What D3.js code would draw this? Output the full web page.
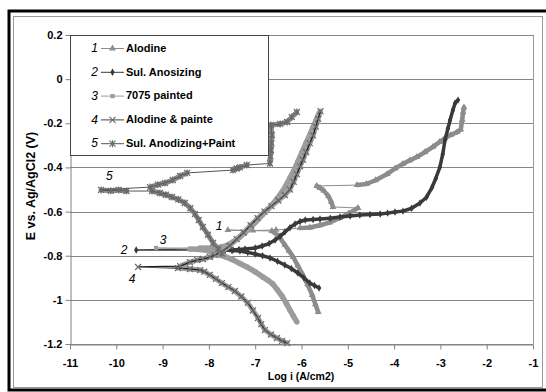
<!DOCTYPE html>
<html>
<head>
<meta charset="utf-8">
<script src="https://cdn.jsdelivr.net/npm/d3@7"></script>
<style>
  body { margin: 0; background: #fff; }
  svg { display: block; font-family: "Liberation Sans", Arial, sans-serif; }
</style>
</head>
<body>
<svg id="chart" width="546" height="392"></svg>
<script>
// tick values
const xTicks = [-11, -10, -9, -8, -7, -6, -5, -4, -3, -2, -1];
const yTicks = [0.2, 0, -0.2, -0.4, -0.6, -0.8, -1, -1.2];

// series names (legend order)
const seriesNames = ['Alodine', 'Sul. Anosizing', '7075 painted', 'Alodine & painte', 'Sul. Anodizing+Paint'];

// each series: [log i, E] in scan order (cathodic end -> Ecorr -> anodic end)
const alodine = [
  [-5.64, -1.055], [-5.70, -1.02], [-5.77, -0.978], [-5.87, -0.93], [-5.97, -0.887],
  [-6.08, -0.845], [-6.18, -0.806], [-6.27, -0.778], [-6.36, -0.751], [-6.49, -0.711],
  [-6.64, -0.688], [-7.59, -0.684],
  [-7.05, -0.686], [-6.55, -0.683], [-6.03, -0.675], [-5.82, -0.672], [-5.60, -0.662],
  [-5.40, -0.650], [-5.17, -0.629], [-4.98, -0.608], [-4.78, -0.584],
  [-5.32, -0.579], [-5.36, -0.555], [-5.42, -0.530], [-5.52, -0.505], [-5.60, -0.493],
  [-5.67, -0.484], [-4.80, -0.480], [-4.60, -0.475], [-4.40, -0.458], [-4.15, -0.430],
  [-3.98, -0.405], [-3.81, -0.384], [-3.66, -0.368], [-3.51, -0.353], [-3.33, -0.330],
  [-3.16, -0.307], [-3.02, -0.285], [-2.90, -0.267], [-2.78, -0.253], [-2.64, -0.240],
  [-2.56, -0.228], [-2.53, -0.185], [-2.51, -0.150], [-2.49, -0.128]
];
const sulAnodizing = [
  [-5.62, -0.946], [-5.72, -0.935], [-5.82, -0.924], [-5.95, -0.90], [-6.08, -0.878],
  [-6.22, -0.858], [-6.36, -0.842], [-6.52, -0.825], [-6.68, -0.810], [-6.84, -0.800],
  [-7.00, -0.792], [-7.16, -0.785], [-7.33, -0.779], [-7.50, -0.776], [-7.65, -0.774],
  [-7.85, -0.774], [-7.98, -0.774], [-9.57, -0.774],
  [-7.87, -0.770], [-7.65, -0.772], [-7.48, -0.774], [-7.35, -0.772], [-7.22, -0.770],
  [-7.00, -0.765], [-6.85, -0.756], [-6.70, -0.745], [-6.57, -0.729], [-6.46, -0.712],
  [-6.36, -0.693], [-6.25, -0.673], [-6.14, -0.656], [-6.03, -0.645], [-5.92, -0.638],
  [-5.75, -0.636], [-5.60, -0.634], [-5.38, -0.630], [-5.17, -0.625], [-4.95, -0.620],
  [-4.74, -0.616], [-4.52, -0.613], [-4.30, -0.611], [-4.14, -0.607], [-3.98, -0.602],
  [-3.81, -0.598], [-3.62, -0.585], [-3.44, -0.561], [-3.30, -0.535], [-3.18, -0.49],
  [-3.10, -0.45], [-3.01, -0.398], [-2.95, -0.34], [-2.90, -0.276], [-2.84, -0.225],
  [-2.79, -0.185], [-2.73, -0.14], [-2.68, -0.108], [-2.62, -0.095]
];
const painted7075 = [
  [-6.10, -1.100], [-6.18, -1.072], [-6.25, -1.046], [-6.33, -1.015], [-6.42, -0.983],
  [-6.52, -0.955], [-6.62, -0.928], [-6.72, -0.912], [-6.83, -0.897], [-7.00, -0.873],
  [-7.18, -0.851], [-7.33, -0.835], [-7.48, -0.819], [-7.62, -0.807], [-7.76, -0.797],
  [-7.92, -0.785], [-8.08, -0.774], [-8.25, -0.771], [-8.41, -0.770], [-9.14, -0.765],
  [-8.19, -0.765], [-8.02, -0.766], [-7.87, -0.765], [-7.72, -0.760], [-7.59, -0.752],
  [-7.46, -0.735], [-7.33, -0.715], [-7.22, -0.695], [-7.11, -0.674], [-6.98, -0.645],
  [-6.85, -0.616], [-6.73, -0.590], [-6.62, -0.566], [-6.52, -0.540], [-6.42, -0.511],
  [-6.33, -0.480], [-6.25, -0.448], [-6.16, -0.412], [-6.08, -0.375], [-5.99, -0.332],
  [-5.90, -0.289], [-5.82, -0.252], [-5.75, -0.217], [-5.68, -0.185], [-5.62, -0.153]
];
const alodinePaint = [
  [-6.31, -1.196], [-6.42, -1.186], [-6.53, -1.173], [-6.66, -1.157], [-6.79, -1.137],
  [-6.87, -1.110], [-6.94, -1.082], [-7.05, -1.048], [-7.16, -1.014], [-7.30, -0.985],
  [-7.44, -0.960], [-7.58, -0.942], [-7.72, -0.924], [-7.85, -0.905], [-7.98, -0.887],
  [-8.10, -0.872], [-8.19, -0.865], [-8.41, -0.860], [-8.67, -0.856], [-9.53, -0.851],
  [-8.62, -0.847], [-8.41, -0.829], [-8.25, -0.820], [-8.13, -0.815], [-7.98, -0.806],
  [-7.87, -0.797], [-7.70, -0.779], [-7.55, -0.755], [-7.40, -0.725], [-7.25, -0.695],
  [-7.10, -0.662], [-6.95, -0.630], [-6.80, -0.600], [-6.65, -0.575], [-6.50, -0.550],
  [-6.36, -0.525], [-6.25, -0.500], [-6.17, -0.465], [-6.10, -0.430], [-6.03, -0.395],
  [-5.97, -0.365], [-5.90, -0.330], [-5.82, -0.290], [-5.75, -0.255], [-5.69, -0.215],
  [-5.64, -0.180], [-5.59, -0.145]
];
const sulAnodizingPaint = [
  [-7.72, -0.790], [-7.80, -0.770], [-7.91, -0.742], [-8.02, -0.705], [-8.13, -0.670],
  [-8.22, -0.638], [-8.30, -0.611], [-8.40, -0.585], [-8.52, -0.561], [-8.66, -0.545],
  [-8.80, -0.534], [-8.93, -0.524], [-9.06, -0.516], [-9.23, -0.507], [-9.78, -0.507],
  [-9.95, -0.502], [-10.12, -0.506], [-10.33, -0.502],
  [-9.27, -0.489], [-9.10, -0.478], [-8.95, -0.471], [-8.78, -0.457], [-8.62, -0.439],
  [-8.47, -0.425], [-7.48, -0.412], [-7.40, -0.405], [-7.33, -0.400], [-7.18, -0.389],
  [-6.68, -0.382], [-6.67, -0.350], [-6.66, -0.321], [-6.65, -0.290], [-6.64, -0.253],
  [-6.66, -0.208], [-6.46, -0.203], [-6.31, -0.194], [-6.21, -0.172], [-6.10, -0.149]
];

// curve number labels placed on the chart
const curveLabels = [
  { text: '1', x: -7.78, y: -0.665 },
  { text: '2', x: -9.83, y: -0.774 },
  { text: '3', x: -8.99, y: -0.728 },
  { text: '4', x: -9.66, y: -0.905 },
  { text: '5', x: -10.15, y: -0.44 }
];

const seriesData = [alodine, sulAnodizing, painted7075, alodinePaint, sulAnodizingPaint];
const styles = [
  { color: '#8c8c8c', line: '#8c8c8c', marker: 'triangle', band: 4.5, width: 1 },
  { color: '#3a3a3a', line: '#3a3a3a', marker: 'diamond', band: 3.5, width: 1.5 },
  { color: '#9c9c9c', line: '#9c9c9c', marker: 'square', band: 5.5, width: 1 },
  { color: '#a0a0a0', line: '#1a1a1a', marker: 'x', band: 5, width: 1.3 },
  { color: '#8a8a8a', line: '#555', marker: 'star', band: 5, width: 1 }
];

const svg = d3.select('#chart');
const margin = { top: 35, right: 13, bottom: 48, left: 70 };
const width = 546, height = 392;

// frame
svg.append('rect').attr('x', 9).attr('y', 11).attr('width', 560).attr('height', 379)
  .attr('fill', 'none').attr('stroke', '#000').attr('stroke-width', 3);
svg.append('rect').attr('x', 13.5).attr('y', 16.5).attr('width', 529).attr('height', 371)
  .attr('fill', 'none').attr('stroke', '#999').attr('stroke-width', 1);

const x = d3.scaleLinear().domain([-11, -1]).range([margin.left, width - margin.right]);
const y = d3.scaleLinear().domain([-1.2, 0.2]).range([height - margin.bottom, margin.top]);

// grid lines
svg.append('g')
  .selectAll('line')
  .data(yTicks)
  .enter()
  .append('line')
  .attr('x1', x(-11)).attr('x2', x(-1))
  .attr('y1', d => Math.round(y(d)) + 0.5).attr('y2', d => Math.round(y(d)) + 0.5)
  .attr('stroke', '#858585');
svg.append('line')
  .attr('x1', Math.round(x(-1)) + 0.5).attr('x2', Math.round(x(-1)) + 0.5)
  .attr('y1', y(0.2)).attr('y2', y(-1.2))
  .attr('stroke', '#999');

// axes
const fmt = d => String(+d.toFixed(1));
const xAxis = svg.append('g')
  .attr('transform', `translate(0,${Math.round(y(-1.2)) + 0.5})`)
  .call(d3.axisBottom(x).tickValues(xTicks).tickFormat(fmt).tickSize(5).tickSizeOuter(0));
const yAxis = svg.append('g')
  .attr('transform', `translate(${Math.round(x(-11)) + 0.5},0)`)
  .call(d3.axisLeft(y).tickValues(yTicks).tickFormat(fmt).tickSize(5).tickSizeOuter(0));
[xAxis, yAxis].forEach(a => {
  a.selectAll('path, line').attr('stroke', '#808080');
  a.selectAll('text').attr('fill', '#000').style('font-size', '11px').style('font-weight', 'bold');
});
xAxis.selectAll('text').attr('dy', '1.3em');
yAxis.selectAll('text').attr('x', -8);

// axis titles
svg.append('text')
  .attr('x', 301).attr('y', 380)
  .attr('text-anchor', 'middle')
  .style('font-size', '10.5px').style('font-weight', 'bold')
  .text('Log i (A/cm2)');
svg.append('text')
  .attr('transform', 'translate(35,186) rotate(-90)')
  .attr('text-anchor', 'middle')
  .style('font-size', '12.5px').style('font-weight', 'bold')
  .text('E vs. Ag/AgCl2 (V)');

function drawMarker(g, type, cx, cy, st) {
  if (type === 'triangle') {
    g.append('path').attr('d', d3.symbol(d3.symbolTriangle, 20)())
      .attr('transform', `translate(${cx},${cy})`).attr('fill', st.color);
  } else if (type === 'diamond') {
    g.append('path').attr('d', d3.symbol(d3.symbolDiamond, 16)())
      .attr('transform', `translate(${cx},${cy})`).attr('fill', st.line);
  } else if (type === 'square') {
    g.append('path').attr('d', d3.symbol(d3.symbolSquare, 18)())
      .attr('transform', `translate(${cx},${cy})`).attr('fill', st.color);
  } else if (type === 'x') {
    g.append('path').attr('d', 'M-3,-3L3,3M-3,3L3,-3')
      .attr('transform', `translate(${cx},${cy})`)
      .attr('stroke', '#6a6a6a').attr('stroke-width', 1.2).attr('fill', 'none');
  } else {
    g.append('path').attr('d', 'M-3,-3L3,3M-3,3L3,-3M0,-3.5L0,3.5')
      .attr('transform', `translate(${cx},${cy})`)
      .attr('stroke', '#6a6a6a').attr('stroke-width', 1.2).attr('fill', 'none');
  }
}

// series
seriesData.forEach((data, i) => {
  const st = styles[i];
  const g = svg.append('g');
  const pts = data.map(d => [x(d[0]), y(d[1])]);
  // dense stretches of the scan read as a thick band, sparse jumps as a thin line
  for (let k = 1; k < pts.length; k++) {
    const [x0, y0] = pts[k - 1], [x1, y1] = pts[k];
    const len = Math.hypot(x1 - x0, y1 - y0);
    if (len < 22) {
      g.append('line').attr('x1', x0).attr('y1', y0).attr('x2', x1).attr('y2', y1)
        .attr('stroke', st.color).attr('stroke-width', st.band).attr('stroke-linecap', 'round');
    }
  }
  g.append('path')
    .datum(pts)
    .attr('d', d3.line())
    .attr('fill', 'none')
    .attr('stroke', st.line)
    .attr('stroke-width', st.width)
    .attr('stroke-linejoin', 'round');
  pts.forEach(p => drawMarker(g, st.marker, p[0], p[1], st));
});

// curve labels
svg.append('g')
  .selectAll('text')
  .data(curveLabels)
  .enter()
  .append('text')
  .attr('x', d => x(d.x)).attr('y', d => y(d.y))
  .attr('text-anchor', 'middle').attr('dy', '0.35em')
  .style('font-size', '12px').style('font-style', 'italic')
  .text(d => d.text);

// legend
const legend = svg.append('g');
legend.append('rect')
  .attr('x', x(-11) + 0.5).attr('y', y(0.2) + 0.5)
  .attr('width', 198).attr('height', 120)
  .attr('fill', '#fff').attr('stroke', '#444');
seriesNames.forEach((name, i) => {
  const ly = 48 + i * 23.8;
  const st = styles[i];
  const row = legend.append('g');
  row.append('text').attr('x', 98).attr('y', ly).attr('dy', '0.35em')
    .attr('text-anchor', 'end')
    .style('font-size', '12px').style('font-style', 'italic')
    .text(i + 1);
  row.append('line').attr('x1', 101).attr('x2', 124).attr('y1', ly + 0.5).attr('y2', ly + 0.5)
    .attr('stroke', st.line === '#1a1a1a' ? '#444' : st.line).attr('stroke-width', 1);
  drawMarker(row, st.marker, 112.5, ly + 0.5, st);
  row.append('text').attr('x', 126).attr('y', ly).attr('dy', '0.35em')
    .style('font-size', '11px').style('font-weight', 'bold')
    .text(name);
});
</script>
</body>
</html>
